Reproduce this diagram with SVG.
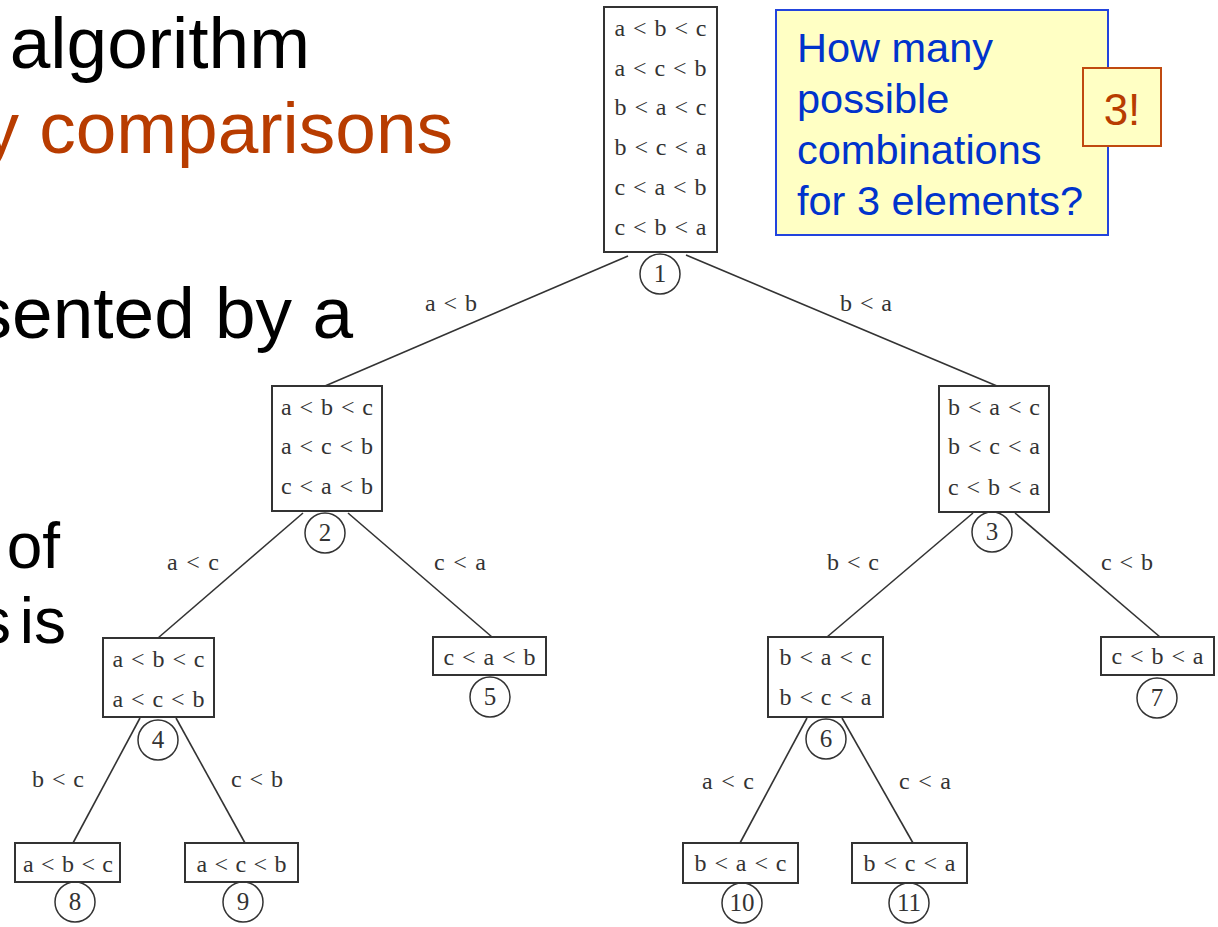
<svg xmlns="http://www.w3.org/2000/svg" width="1218" height="927" viewBox="0 0 1218 927">
<style>
.bg{fill:#ffffff}
.slide{font-family:"Liberation Sans",Arial,sans-serif;font-size:73px;fill:#000000}
.sub{font-size:64px}
.orange{fill:#B83C00}
.box{fill:#ffffff;stroke:#333333;stroke-width:2}
.t{font-family:"Liberation Serif","Times New Roman",serif;font-size:24px;fill:#333333;text-anchor:middle}
.num{font-family:"Liberation Serif","Times New Roman",serif;font-size:25px;fill:#333333;text-anchor:middle}
.circ{fill:none;stroke:#333333;stroke-width:1.5}
.edge{stroke:#333333;stroke-width:1.6;fill:none}
.callout{fill:#FFFFC4;stroke:#2244DD;stroke-width:2}
.ctext{font-family:"Liberation Sans",Arial,sans-serif;font-size:41.5px;fill:#0033CC}
.fact{fill:#FFFFC4;stroke:#C04A10;stroke-width:2}
.ftext{font-family:"Liberation Sans",Arial,sans-serif;font-size:44px;fill:#B83C00;text-anchor:middle}
</style>
<rect class="bg" x="0" y="0" width="1218" height="927"/>

<g id="slide-text">
<text class="slide" x="310" y="68" text-anchor="end">algorithm</text>
<text class="slide orange" x="453" y="153" text-anchor="end">y comparisons</text>
<text class="slide" x="353" y="338" text-anchor="end">sented by a</text>
<text class="slide sub" x="60" y="568" text-anchor="end">of</text>
<text class="slide sub" x="66" y="643" text-anchor="end" word-spacing="-9">s is</text>
</g>

<g id="connectors">
<line class="edge" x1="628" y1="256" x2="325" y2="386"/>
<line class="edge" x1="686" y1="255" x2="997" y2="386"/>
<line class="edge" x1="303" y1="513" x2="158" y2="638"/>
<line class="edge" x1="348" y1="513" x2="492" y2="637"/>
<line class="edge" x1="973" y1="513" x2="827" y2="637"/>
<line class="edge" x1="1015" y1="513" x2="1160" y2="637"/>
<line class="edge" x1="140" y1="718" x2="73" y2="843"/>
<line class="edge" x1="176" y1="718" x2="245" y2="843"/>
<line class="edge" x1="807" y1="718" x2="740" y2="843"/>
<line class="edge" x1="842" y1="718" x2="913" y2="843"/>
<text class="t" x="451" y="311" textLength="52" lengthAdjust="spacing">a &lt; b</text>
<text class="t" x="866" y="311" textLength="52" lengthAdjust="spacing">b &lt; a</text>
<text class="t" x="193" y="570" textLength="52" lengthAdjust="spacing">a &lt; c</text>
<text class="t" x="460" y="570" textLength="52" lengthAdjust="spacing">c &lt; a</text>
<text class="t" x="853" y="570" textLength="52" lengthAdjust="spacing">b &lt; c</text>
<text class="t" x="1127" y="570" textLength="52" lengthAdjust="spacing">c &lt; b</text>
<text class="t" x="58" y="787" textLength="52" lengthAdjust="spacing">b &lt; c</text>
<text class="t" x="257" y="787" textLength="52" lengthAdjust="spacing">c &lt; b</text>
<text class="t" x="728" y="789" textLength="52" lengthAdjust="spacing">a &lt; c</text>
<text class="t" x="925" y="789" textLength="52" lengthAdjust="spacing">c &lt; a</text>
</g>

<g id="node1">
<rect class="box" x="604" y="7" width="113" height="245"/>
<text class="t" x="660.5" y="36" textLength="92" lengthAdjust="spacing">a &lt; b &lt; c</text>
<text class="t" x="660.5" y="76" textLength="92" lengthAdjust="spacing">a &lt; c &lt; b</text>
<text class="t" x="660.5" y="115" textLength="92" lengthAdjust="spacing">b &lt; a &lt; c</text>
<text class="t" x="660.5" y="155" textLength="92" lengthAdjust="spacing">b &lt; c &lt; a</text>
<text class="t" x="660.5" y="195" textLength="92" lengthAdjust="spacing">c &lt; a &lt; b</text>
<text class="t" x="660.5" y="235" textLength="92" lengthAdjust="spacing">c &lt; b &lt; a</text>
<circle class="circ" cx="660" cy="274" r="20"/>
<text class="num" x="660" y="282">1</text>
</g>

<g id="node2">
<rect class="box" x="272" y="386" width="110" height="125"/>
<text class="t" x="327" y="415" textLength="92" lengthAdjust="spacing">a &lt; b &lt; c</text>
<text class="t" x="327" y="454" textLength="92" lengthAdjust="spacing">a &lt; c &lt; b</text>
<text class="t" x="327" y="494" textLength="92" lengthAdjust="spacing">c &lt; a &lt; b</text>
<circle class="circ" cx="325" cy="533" r="20"/>
<text class="num" x="325" y="541">2</text>
</g>

<g id="node3">
<rect class="box" x="939" y="386" width="110" height="126"/>
<text class="t" x="994" y="415" textLength="92" lengthAdjust="spacing">b &lt; a &lt; c</text>
<text class="t" x="994" y="454" textLength="92" lengthAdjust="spacing">b &lt; c &lt; a</text>
<text class="t" x="994" y="495" textLength="92" lengthAdjust="spacing">c &lt; b &lt; a</text>
<circle class="circ" cx="992" cy="532" r="20"/>
<text class="num" x="992" y="540">3</text>
</g>

<g id="node4">
<rect class="box" x="103" y="638" width="111" height="79"/>
<text class="t" x="158.5" y="667" textLength="92" lengthAdjust="spacing">a &lt; b &lt; c</text>
<text class="t" x="158.5" y="707" textLength="92" lengthAdjust="spacing">a &lt; c &lt; b</text>
<circle class="circ" cx="158" cy="740" r="20"/>
<text class="num" x="158" y="748">4</text>
</g>

<g id="node5">
<rect class="box" x="433" y="637" width="113" height="38"/>
<text class="t" x="489.5" y="665" textLength="92" lengthAdjust="spacing">c &lt; a &lt; b</text>
<circle class="circ" cx="490" cy="697" r="20"/>
<text class="num" x="490" y="705">5</text>
</g>

<g id="node6">
<rect class="box" x="768" y="637" width="115" height="80"/>
<text class="t" x="825.5" y="665" textLength="92" lengthAdjust="spacing">b &lt; a &lt; c</text>
<text class="t" x="825.5" y="705" textLength="92" lengthAdjust="spacing">b &lt; c &lt; a</text>
<circle class="circ" cx="826" cy="739" r="20"/>
<text class="num" x="826" y="747">6</text>
</g>

<g id="node7">
<rect class="box" x="1101" y="637" width="113" height="38"/>
<text class="t" x="1157.5" y="664" textLength="92" lengthAdjust="spacing">c &lt; b &lt; a</text>
<circle class="circ" cx="1157" cy="698" r="20"/>
<text class="num" x="1157" y="706">7</text>
</g>

<g id="node8">
<rect class="box" x="15" y="843" width="105" height="39"/>
<text class="t" x="68" y="872" textLength="90" lengthAdjust="spacing">a &lt; b &lt; c</text>
<circle class="circ" cx="75" cy="902" r="20"/>
<text class="num" x="75" y="910">8</text>
</g>

<g id="node9">
<rect class="box" x="185" y="843" width="113" height="39"/>
<text class="t" x="241.5" y="872" textLength="90" lengthAdjust="spacing">a &lt; c &lt; b</text>
<circle class="circ" cx="243" cy="902" r="20"/>
<text class="num" x="243" y="910">9</text>
</g>

<g id="node10">
<rect class="box" x="683" y="843" width="115" height="40"/>
<text class="t" x="740.5" y="871" textLength="92" lengthAdjust="spacing">b &lt; a &lt; c</text>
<circle class="circ" cx="742" cy="903" r="20"/>
<text class="num" x="742" y="911">10</text>
</g>

<g id="node11">
<rect class="box" x="852" y="843" width="115" height="40"/>
<text class="t" x="909.5" y="871" textLength="92" lengthAdjust="spacing">b &lt; c &lt; a</text>
<circle class="circ" cx="909" cy="903" r="20"/>
<text class="num" x="909" y="911">11</text>
</g>

<g id="callout">
<rect class="callout" x="776" y="10" width="332" height="225"/>
<text class="ctext" x="797" y="62">How many</text>
<text class="ctext" x="797" y="113">possible</text>
<text class="ctext" x="797" y="164">combinations</text>
<text class="ctext" x="797" y="215">for 3 elements?</text>
</g>

<g id="answer">
<rect class="fact" x="1083" y="68" width="78" height="78"/>
<text class="ftext" x="1122" y="125">3!</text>
</g>
</svg>
